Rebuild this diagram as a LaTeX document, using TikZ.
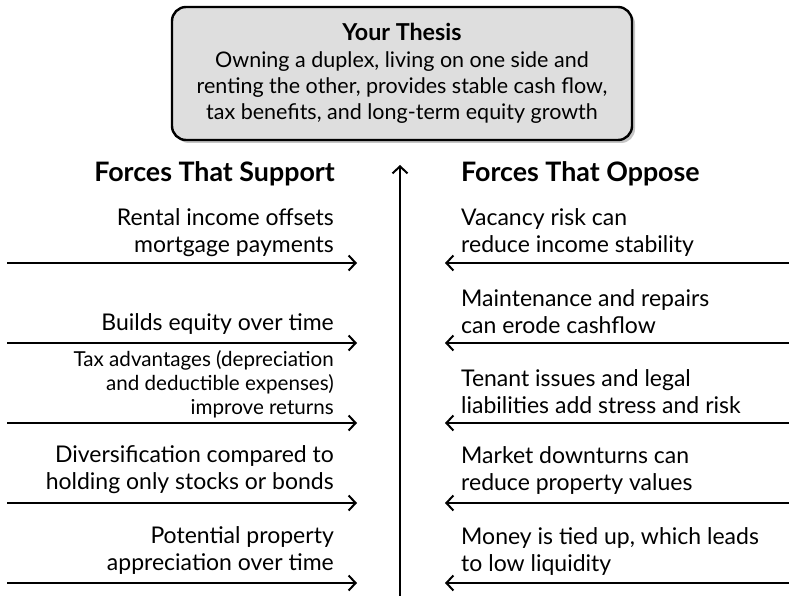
\documentclass[tikz,border=0pt]{standalone}
\usepackage{fontspec}
\setmainfont{Lato}
\usetikzlibrary{arrows.meta,shadows}
\def\bodyfont{\fontsize{23}{27}\selectfont}
\def\boxfont{\fontsize{21.5}{26.3}\selectfont}
\def\boxheadfont{\fontsize{23.3}{26}\selectfont\bfseries}
\def\headfont{\fontsize{26.8}{30}\selectfont\bfseries}
\def\taxfont{\fontsize{20.6}{24}\selectfont}
\begin{document}
\begin{tikzpicture}[x=1pt,y=-1pt,
			thesis/.style={draw,line width=2.4pt,rounded corners=14pt,fill=black!13,
				minimum width=460pt,minimum height=133pt,align=center,inner sep=0pt,
				font=\boxfont,drop shadow={shadow xshift=3pt,shadow yshift=-3pt,fill=black!45}},
			head/.style={font=\headfont,inner sep=0pt},
			labl/.style={anchor=base east,align=right,font=\bodyfont,inner sep=0pt},
			labr/.style={anchor=base west,align=left,font=\bodyfont,inner sep=0pt},
			force/.style={line width=2.2pt,-{Straight Barb[length=7pt,width=15pt,line width=2pt]}}]
			\useasboundingbox (0,0) rectangle (789,596);
			\node [thesis] (thesis) at (402,73.5) {\raisebox{-2pt}{\boxheadfont Your Thesis}\\[2pt]Owning a duplex, living on one side and\\renting the other, provides stable cash flow,\\tax benefits, and long-term equity growth\rule[-4pt]{0pt}{1pt}};
			\coordinate (axisfoot) at (400,596);
			\coordinate (axistop) at (400,165);
			\draw [force] (axisfoot) -- (axistop);
			\node [head,anchor=base east] (suphead) at (335,182) {Forces That Support};
			\node [head,anchor=base west] (opphead) at (461,182) {Forces That Oppose};
			\foreach \i/\y in {1/263,2/343,3/423,4/503,5/583}{
				\coordinate (supa\i) at (7,\y); \coordinate (supb\i) at (357,\y);
				\draw [force] (supa\i) -- (supb\i);
				\coordinate (oppa\i) at (789,\y); \coordinate (oppb\i) at (445,\y);
				\draw [force] (oppa\i) -- (oppb\i);
			}
			\node [labl] (sup1) at (334,252) {Rental income offsets\\mortgage payments};
			\node [labl] (sup2) at (334,330) {Builds equity over time};
			\node [labl,font=\taxfont] (sup3) at (334,414) {Tax advantages (depreciation\\and deductible expenses)\\improve returns};
			\node [labl] (sup4) at (334,489) {Diversification compared to\\holding only stocks or bonds};
			\node [labl] (sup5) at (334,570) {Potential property\\appreciation over time};
			\node [labr] (opp1) at (461,252) {Vacancy risk can\\reduce income stability};
			\node [labr] (opp2) at (461,333) {Maintenance and repairs\\can erode cashflow};
			\node [labr] (opp3) at (461,413) {Tenant issues and legal\\liabilities add stress and risk};
			\node [labr] (opp4) at (461,490) {Market downturns can\\reduce property values};
			\node [labr] (opp5) at (461,571) {Money is tied up, which leads\\to low liquidity};
		\end{tikzpicture}
\end{document}
